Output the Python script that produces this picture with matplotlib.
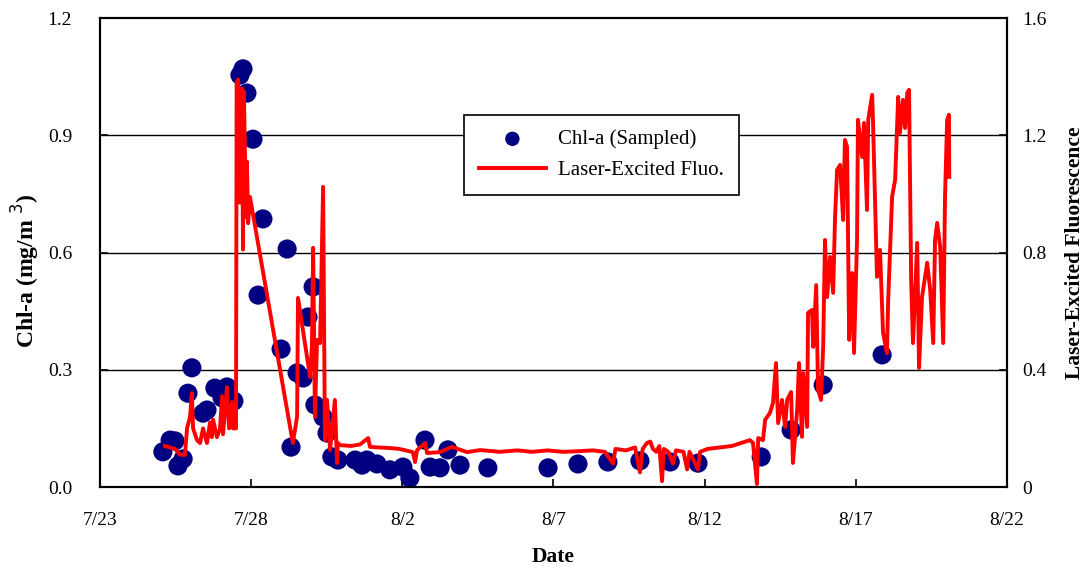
import matplotlib.pyplot as plt

plt.rcParams['font.family'] = ['Liberation Serif', 'DejaVu Serif']

# days since 7/23
tick_days = [0, 5, 10, 15, 20, 25, 30]
tick_labels = ["7/23", "7/28", "8/2", "8/7", "8/12", "8/17", "8/22"]

# sampled Chl-a (mg/m3)
chl_day = [2.08, 2.32, 2.48, 2.58, 2.75, 2.91, 3.04, 3.41, 3.54, 3.80, 4.04, 4.20, 4.43,
           4.63, 4.73, 4.86, 5.06, 5.23, 5.39, 5.99, 6.19, 6.32, 6.52, 6.72, 6.88, 7.05,
           7.11, 7.38, 7.51, 7.67, 7.87, 8.44, 8.67, 8.83, 9.16, 9.59, 10.02, 10.25, 10.75,
           10.92, 11.25, 11.51, 11.91, 12.83, 14.82, 15.81, 16.80, 17.86, 18.86, 19.78,
           21.87, 22.86, 23.92, 25.87]
chl_val = [0.090, 0.120, 0.118, 0.054, 0.072, 0.240, 0.305, 0.189, 0.197, 0.253, 0.228,
           0.256, 0.220, 1.054, 1.070, 1.008, 0.890, 0.491, 0.686, 0.353, 0.609, 0.102,
           0.292, 0.279, 0.435, 0.512, 0.210, 0.179, 0.138, 0.077, 0.069, 0.069, 0.056,
           0.069, 0.059, 0.044, 0.051, 0.023, 0.120, 0.051, 0.049, 0.095, 0.056, 0.049,
           0.049, 0.059, 0.064, 0.067, 0.064, 0.061, 0.077, 0.146, 0.261, 0.338]

# laser-excited fluorescence
fl_day = [2.15, 2.48, 2.65, 2.81, 2.88, 2.98, 3.04, 3.08, 3.21, 3.31, 3.41, 3.54, 3.64,
          3.70, 3.74, 3.87, 3.97, 4.04, 4.07, 4.20, 4.27, 4.37, 4.40, 4.50, 4.52, 4.57,
          4.63, 4.70, 4.73, 4.76, 4.83, 4.86, 4.90, 4.96,
          6.38, 6.52, 6.55, 6.95, 7.01, 7.05, 7.11, 7.18, 7.28, 7.38, 7.44, 7.51, 7.61,
          7.77, 7.84, 7.87, 7.94, 8.3, 8.6, 8.87, 8.93, 9.2, 9.59, 9.9, 10.35, 10.42, 10.49,
          10.75, 10.82, 11.25, 11.64, 12.14, 12.57, 13.23, 13.8, 14.3, 14.8, 15.3, 15.8,
          16.3, 16.7, 16.97, 17.05, 17.4, 17.7, 17.86, 17.95, 18.09, 18.2, 18.29, 18.4,
          18.5, 18.59, 18.65, 18.8, 18.95, 19.05, 19.3, 19.42, 19.5, 19.78, 19.85, 20.1,
          20.5, 20.9, 21.2, 21.5, 21.6, 21.73, 21.77, 21.93, 22.0, 22.16, 22.26, 22.36,
          22.43, 22.56, 22.66, 22.73, 22.86, 22.92, 23.06, 23.12, 23.22, 23.26, 23.39,
          23.42, 23.55, 23.59, 23.69, 23.75, 23.85, 23.92, 23.98, 24.05, 24.15, 24.25,
          24.31, 24.38, 24.48, 24.58, 24.64, 24.71, 24.78, 24.88, 24.94, 25.04, 25.07,
          25.21, 25.27, 25.37, 25.41, 25.54, 25.57, 25.70, 25.80, 25.90, 26.03, 26.07,
          26.20, 26.30, 26.40, 26.46, 26.56, 26.63, 26.70, 26.76, 26.83, 26.89, 27.03,
          27.09, 27.19, 27.36, 27.46, 27.56, 27.62, 27.69, 27.79, 27.89, 27.95, 28.02,
          28.08, 28.09]
fl_val = [0.14, 0.13, 0.11, 0.11, 0.20, 0.24, 0.32, 0.20, 0.16, 0.15, 0.20, 0.15, 0.22,
          0.17, 0.23, 0.17, 0.20, 0.31, 0.18, 0.34, 0.20, 0.29, 0.20, 0.20, 1.38, 1.39,
          0.97, 1.36, 0.81, 1.35, 0.92, 1.11, 0.90, 0.99,
          0.15, 0.24, 0.645, 0.375, 0.478, 0.816, 0.239, 0.502, 0.491, 1.024, 0.16, 0.297,
          0.126, 0.297, 0.082, 0.15, 0.143, 0.14, 0.145, 0.167, 0.137, 0.135, 0.133, 0.13,
          0.119, 0.085, 0.126, 0.15, 0.116, 0.119, 0.137, 0.119, 0.126, 0.12, 0.125, 0.12,
          0.125, 0.12, 0.122, 0.125, 0.12, 0.08, 0.13, 0.125, 0.135, 0.05, 0.13, 0.15,
          0.155, 0.13, 0.12, 0.14, 0.02, 0.13, 0.12, 0.08, 0.125, 0.12, 0.06, 0.12, 0.06,
          0.12, 0.13, 0.135, 0.14, 0.15, 0.16, 0.15, 0.01, 0.167, 0.16, 0.229, 0.253,
          0.287, 0.423, 0.218, 0.297, 0.205, 0.297, 0.324, 0.082, 0.263, 0.423, 0.171,
          0.389, 0.205, 0.594, 0.604, 0.478, 0.689, 0.331, 0.297, 0.478, 0.843, 0.648,
          0.785, 0.662, 0.911, 1.082, 1.099, 0.911, 1.184, 1.160, 0.502, 0.730, 0.457,
          0.843, 1.253, 1.126, 1.242, 0.945, 1.253, 1.338, 1.242, 0.717, 0.809, 0.526,
          0.457, 0.638, 0.990, 1.048, 1.331, 1.208, 1.321, 1.225, 1.345, 1.355, 0.706,
          0.491, 0.833, 0.406, 0.648, 0.765, 0.672, 0.491, 0.843, 0.901, 0.819, 0.491,
          0.990, 1.253, 1.270, 1.058]

fig = plt.figure(figsize=(10.89, 5.76), dpi=100)
ax = fig.add_axes([0.0918, 0.1545, 0.8329, 0.8142])
ax2 = ax.twinx()

ax.scatter(chl_day, chl_val, s=190, color="#000080", edgecolors="none",
           label="Chl-a (Sampled)", zorder=3)
ax2.plot(fl_day, fl_val, color="#ff0000", lw=2.8, label="Laser-Excited Fluo.")

ax.set_xlim(0, 30)
ax.set_ylim(0, 1.2)
ax2.set_ylim(0, 1.6)
ax.set_xticks(tick_days)
ax.set_xticklabels(tick_labels)
ax.set_yticks([0, 0.3, 0.6, 0.9, 1.2])
ax.set_yticklabels(["0.0", "0.3", "0.6", "0.9", "1.2"])
ax2.set_yticks([0, 0.4, 0.8, 1.2, 1.6])
ax2.set_yticklabels(["0", "0.4", "0.8", "1.2", "1.6"])

for y in [0.3, 0.6, 0.9]:
    ax.axhline(y, color="black", lw=1.0, zorder=0)

ax.tick_params(direction="in", length=6, width=1.2, labelsize=14)
ax.tick_params(axis="y", pad=20)
ax.tick_params(axis="x", pad=18)
ax2.tick_params(direction="in", length=6, width=1.2, labelsize=14, pad=11)
for a in (ax, ax2):
    for s in a.spines.values():
        s.set_linewidth(1.5)

ax.set_xlabel("Date", fontsize=15.5, fontweight="bold", labelpad=13)
ax.set_ylabel("Chl-a (mg/m $^{3}$)", fontsize=17, fontweight="bold")
ax.yaxis.set_label_coords(-0.064, 0.46)
ax2.set_ylabel("Laser-Excited Fluorescence", fontsize=15.5, fontweight="bold", labelpad=13)

h1, l1 = ax.get_legend_handles_labels()
h2, l2 = ax2.get_legend_handles_labels()
leg = ax2.legend(h1 + h2, l1 + l2, loc="center", bbox_to_anchor=(0.553, 0.708),
                 fontsize=15, frameon=True, fancybox=False, edgecolor="black",
                 framealpha=1, borderpad=0.7, handlelength=3.2, handletextpad=0.6,
                 labelspacing=0.55, markerscale=0.75)
leg.get_frame().set_linewidth(1.2)

fig.savefig("out.png", dpi=100)
